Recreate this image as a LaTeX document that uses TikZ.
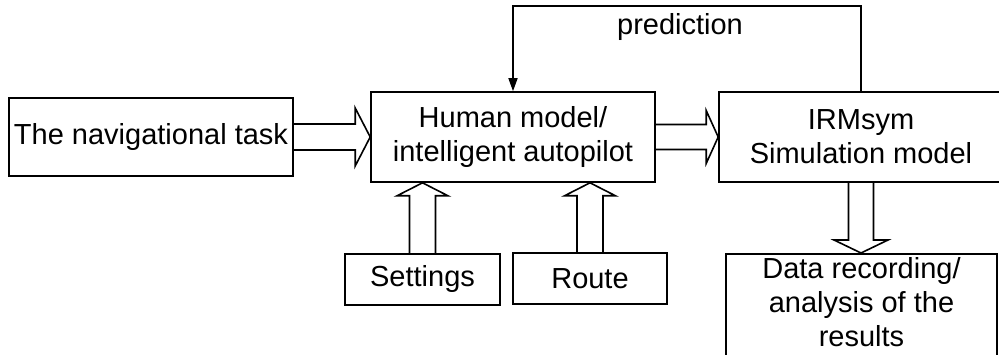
\documentclass[tikz,border=0pt]{standalone}
\usepackage{fontspec}
\setmainfont{Liberation Sans}
\usetikzlibrary{calc,arrows.meta}
\begin{document}
\begin{tikzpicture}[x=1pt,y=-1pt,
  every node/.style={font=\fontsize{29}{34}\selectfont},
  box/.style={draw,line width=1.6pt,rectangle,inner sep=0pt,align=center},
  blk/.style={draw,line width=1.6pt,line join=miter},
  feed/.style={draw,line width=1.6pt,-{Triangle[length=13pt,width=9pt]}}]
\useasboundingbox (0,0) rectangle (999,355);
\clip (0,0) rectangle (999,355);
\fill[white] (0,0) rectangle (999,355);
\node[box,minimum width=284pt,minimum height=78pt] (task) at (151,137) {The navigational task};
\node[box,minimum width=284pt,minimum height=90pt] (human) at (513,137) {Human model/\\intelligent autopilot};
\node[box,minimum width=284pt,minimum height=90pt] (irm) at (861,137) {IRMsym\\Simulation model};
\node[box,minimum width=155pt,minimum height=51pt] (set) at (422.5,279.5) {Settings};
\node[box,minimum width=154pt,minimum height=51pt] (route) at (590,278.5) {Route};
\node[box,minimum width=271pt,anchor=north,inner ysep=4pt,text depth=24pt] (data) at (861.5,253) {Data recording/\\analysis of the\\results};
\node[anchor=base] (pred) at (680,35) {prediction};
% feedback
\coordinate (c1) at ($(irm.north)+(0,-85)$);
\coordinate (c2) at (c1 -| human.north);
\draw[feed] (irm.north) -- (c1) -- (c2) -- (human.north);
% block arrows
\draw[blk] ($(task.east)+(0,-13)$) -- ($(human.west)+(-15,-13)$) -- ($(human.west)+(-15,-29)$) -- (human.west)
  -- ($(human.west)+(-15,29)$) -- ($(human.west)+(-15,13)$) -- ($(task.east)+(0,13)$);
\draw[blk] ($(human.east)+(0,-12.5)$) -- ($(irm.west)+(-12,-12.5)$) -- ($(irm.west)+(-12,-26.5)$) -- (irm.west)
  -- ($(irm.west)+(-12,26.5)$) -- ($(irm.west)+(-12,12.5)$) -- ($(human.east)+(0,12.5)$);
\coordinate (dt) at (irm.south |- data.north);
\draw[blk] ($(irm.south)+(-12.5,0)$) -- ($(dt)+(-12.5,-13)$) -- ($(dt)+(-27,-13)$) -- (dt)
  -- ($(dt)+(27,-13)$) -- ($(dt)+(12.5,-13)$) -- ($(irm.south)+(12.5,0)$);
\coordinate (st) at (set.north |- human.south);
\draw[blk] ($(set.north)+(-13,0)$) -- ($(st)+(-13,13)$) -- ($(st)+(-25.5,13)$) -- (st)
  -- ($(st)+(25.5,13)$) -- ($(st)+(13,13)$) -- ($(set.north)+(13,0)$);
\coordinate (rt) at (route.north |- human.south);
\draw[blk] ($(route.north)+(-13,0)$) -- ($(rt)+(-13,13)$) -- ($(rt)+(-25.5,13)$) -- (rt)
  -- ($(rt)+(25.5,13)$) -- ($(rt)+(13,13)$) -- ($(route.north)+(13,0)$);
\end{tikzpicture}
\end{document}
